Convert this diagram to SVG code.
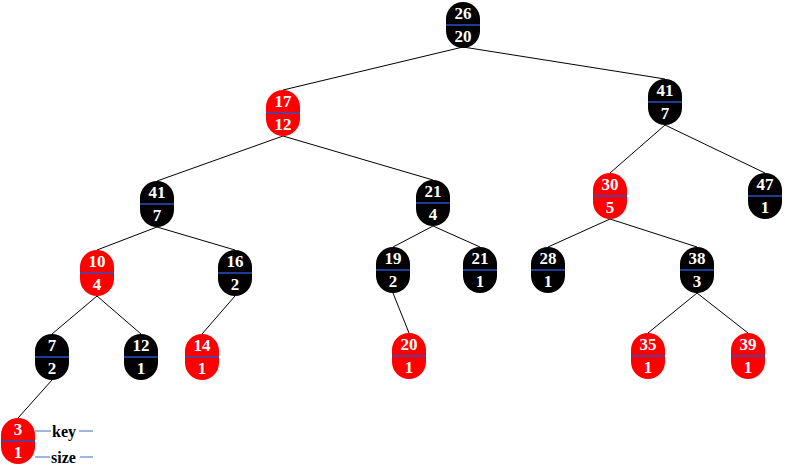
<svg xmlns="http://www.w3.org/2000/svg" width="788" height="468" viewBox="0 0 788 468">
<defs>
<style>
.e{stroke:#000;stroke-width:1;fill:none}
.b{fill:#000}
.r{fill:#f00}
.d{stroke:#2b4fc8;stroke-width:1.6}
.t{font-family:"Liberation Serif","Times New Roman",serif;font-weight:bold;font-size:17px;fill:#fff;text-anchor:middle}
.l{font-family:"Liberation Serif","Times New Roman",serif;font-weight:bold;font-size:16px;fill:#000}
.ll{stroke:#3d6cc0;stroke-width:1}
</style>
<g id="nb"><rect class="b" x="-17" y="-23" width="34" height="46" rx="17" ry="17"/><line class="d" x1="-17" y1="0" x2="17" y2="0"/></g>
<g id="nr"><rect class="r" x="-17" y="-23" width="34" height="46" rx="17" ry="17"/><line class="d" x1="-17" y1="0" x2="17" y2="0"/></g>
</defs>
<rect width="788" height="468" fill="#fff"/>
<g id="edges">
<line class="e" x1="463" y1="47" x2="283" y2="90"/>
<line class="e" x1="463" y1="47" x2="665" y2="79"/>
<line class="e" x1="283" y1="136" x2="157" y2="181"/>
<line class="e" x1="283" y1="136" x2="433" y2="180"/>
<line class="e" x1="665" y1="125" x2="610" y2="173"/>
<line class="e" x1="665" y1="125" x2="765" y2="173"/>
<line class="e" x1="157" y1="227" x2="97" y2="250"/>
<line class="e" x1="157" y1="227" x2="235" y2="250"/>
<line class="e" x1="433" y1="226" x2="393" y2="247"/>
<line class="e" x1="433" y1="226" x2="480" y2="247"/>
<line class="e" x1="610" y1="219" x2="548" y2="247"/>
<line class="e" x1="610" y1="219" x2="697" y2="247"/>
<line class="e" x1="97" y1="296" x2="52" y2="334"/>
<line class="e" x1="97" y1="296" x2="141" y2="334"/>
<line class="e" x1="235" y1="296" x2="202" y2="334"/>
<line class="e" x1="393" y1="293" x2="409" y2="333"/>
<line class="e" x1="697" y1="293" x2="648" y2="333"/>
<line class="e" x1="697" y1="293" x2="748" y2="333"/>
<line class="e" x1="52" y1="380" x2="18" y2="418"/>
</g>
<g id="n26"><use href="#nb" x="463" y="25"/><text class="t" x="463" y="19">26</text><text class="t" x="463" y="42">20</text></g>
<g id="n17"><use href="#nr" x="283" y="113"/><text class="t" x="283" y="107">17</text><text class="t" x="283" y="130">12</text></g>
<g id="n41r"><use href="#nb" x="665" y="102"/><text class="t" x="665" y="96">41</text><text class="t" x="665" y="119">7</text></g>
<g id="n41l"><use href="#nb" x="157" y="204"/><text class="t" x="157" y="198">41</text><text class="t" x="157" y="221">7</text></g>
<g id="n21a"><use href="#nb" x="433" y="203"/><text class="t" x="433" y="197">21</text><text class="t" x="433" y="220">4</text></g>
<g id="n30"><use href="#nr" x="610" y="196"/><text class="t" x="610" y="190">30</text><text class="t" x="610" y="213">5</text></g>
<g id="n47"><use href="#nb" x="765" y="196"/><text class="t" x="765" y="190">47</text><text class="t" x="765" y="213">1</text></g>
<g id="n10"><use href="#nr" x="97" y="273"/><text class="t" x="97" y="267">10</text><text class="t" x="97" y="290">4</text></g>
<g id="n16"><use href="#nb" x="235" y="273"/><text class="t" x="235" y="267">16</text><text class="t" x="235" y="290">2</text></g>
<g id="n19"><use href="#nb" x="393" y="270"/><text class="t" x="393" y="264">19</text><text class="t" x="393" y="287">2</text></g>
<g id="n21b"><use href="#nb" x="480" y="270"/><text class="t" x="480" y="264">21</text><text class="t" x="480" y="287">1</text></g>
<g id="n28"><use href="#nb" x="548" y="270"/><text class="t" x="548" y="264">28</text><text class="t" x="548" y="287">1</text></g>
<g id="n38"><use href="#nb" x="697" y="270"/><text class="t" x="697" y="264">38</text><text class="t" x="697" y="287">3</text></g>
<g id="n7"><use href="#nb" x="52" y="357"/><text class="t" x="52" y="351">7</text><text class="t" x="52" y="374">2</text></g>
<g id="n12"><use href="#nb" x="141" y="357"/><text class="t" x="141" y="351">12</text><text class="t" x="141" y="374">1</text></g>
<g id="n14"><use href="#nr" x="202" y="357"/><text class="t" x="202" y="351">14</text><text class="t" x="202" y="374">1</text></g>
<g id="n20"><use href="#nr" x="409" y="356"/><text class="t" x="409" y="350">20</text><text class="t" x="409" y="373">1</text></g>
<g id="n35"><use href="#nr" x="648" y="356"/><text class="t" x="648" y="350">35</text><text class="t" x="648" y="373">1</text></g>
<g id="n39"><use href="#nr" x="748" y="356"/><text class="t" x="748" y="350">39</text><text class="t" x="748" y="373">1</text></g>
<g id="n3"><use href="#nr" x="18" y="441"/><text class="t" x="18" y="435">3</text><text class="t" x="18" y="458">1</text></g>
<g id="legend">
<line class="ll" x1="35" y1="431" x2="93" y2="431"/>
<line class="ll" x1="35" y1="457" x2="93" y2="457"/>
<rect x="51" y="423" width="28" height="15" fill="#fff"/>
<rect x="50" y="449" width="30" height="15" fill="#fff"/>
<text class="l" x="52" y="437">key</text>
<text class="l" x="51" y="463">size</text>
</g>
</svg>
